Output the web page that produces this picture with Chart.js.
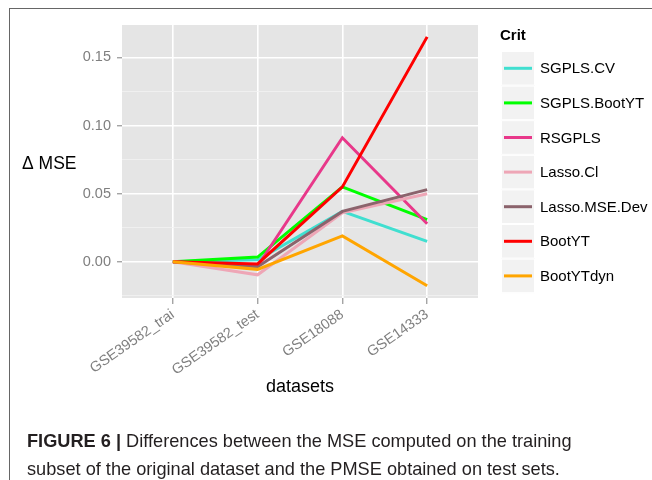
<!DOCTYPE html>
<html>
<head>
<meta charset="utf-8">
<script src="https://cdn.jsdelivr.net/npm/chart.js@4/dist/chart.umd.min.js"></script>
<style>
  body { margin: 0; background: #fff; }
  #wrap { position: relative; width: 652px; height: 480px; overflow: hidden; }
  #frame { position: absolute; left: 9px; top: 8px; width: 700px; height: 600px;
           border-left: 1px solid #666; border-top: 1px solid #666; }
  canvas { position: absolute; left: 0; top: 0; }
</style>
</head>
<body>
<div id="wrap">
  <div id="frame"></div>
  <canvas id="chart" width="652" height="480"></canvas>
</div>
<script>
// categories and tick values
const categories = ['GSE39582_trai', 'GSE39582_test', 'GSE18088', 'GSE14333'];
const yMajorTicks = [0, 0.05, 0.10, 0.15];
const yMinorTicks = [-0.025, 0.025, 0.075, 0.125];

// series
const sgplsCV     = [0, 0.0015, 0.037, 0.015];
const sgplsBootYT = [0, 0.0035, 0.055, 0.031];
const rsgpls      = [0, -0.003, 0.091, 0.028];
const lassoCl     = [0, -0.0095, 0.036, 0.050];
const lassoMSEDev = [0, -0.0035, 0.037, 0.053];
const bootYT      = [0, -0.0015, 0.055, 0.165];
const bootYTdyn   = [0, -0.0055, 0.019, -0.0175];

const seriesNames = ['SGPLS.CV', 'SGPLS.BootYT', 'RSGPLS', 'Lasso.Cl', 'Lasso.MSE.Dev', 'BootYT', 'BootYTdyn'];
const seriesValues = [sgplsCV, sgplsBootYT, rsgpls, lassoCl, lassoMSEDev, bootYT, bootYTdyn];
const seriesColors = ['#40dfd0', '#00ff00', '#e8388a', '#eea6b6', '#8b636c', '#ff0000', '#ffa500'];

const FONT = '"Liberation Sans", Arial, sans-serif';

const panelBg = {
  id: 'panelBg',
  beforeDraw(chart) {
    const { ctx, chartArea: a } = chart;
    ctx.save();
    ctx.fillStyle = '#e5e5e5';
    ctx.fillRect(a.left, a.top, a.right - a.left, a.bottom - a.top);
    ctx.restore();
  }
};

// ggplot-style legend with grey keys
const critLegend = {
  id: 'critLegend',
  afterDraw(chart) {
    const ctx = chart.ctx;
    const x0 = 501, y0 = 51, kw = 34, kh = 34.6;
    ctx.save();
    ctx.fillStyle = '#000';
    ctx.font = 'bold 15px ' + FONT;
    ctx.textBaseline = 'middle';
    ctx.fillText('Crit', 500, 36);
    chart.data.datasets.forEach((ds, i) => {
      const y = y0 + i * kh;
      ctx.fillStyle = '#f2f2f2';
      ctx.fillRect(x0, y, kw, kh);
      ctx.strokeStyle = '#ffffff';
      ctx.lineWidth = 1;
      ctx.strokeRect(x0 + 0.5, y + 0.5, kw - 1, kh - 1);
      ctx.strokeStyle = ds.borderColor;
      ctx.lineWidth = 3;
      ctx.beginPath();
      ctx.moveTo(x0 + 3, y + kh / 2);
      ctx.lineTo(x0 + kw - 3, y + kh / 2);
      ctx.stroke();
      ctx.fillStyle = '#000';
      ctx.font = '15px ' + FONT;
      ctx.fillText(ds.label, 540, y + kh / 2 + 1);
    });
    ctx.restore();
  }
};

// axis titles and figure caption
const texts = {
  id: 'texts',
  afterDraw(chart) {
    const ctx = chart.ctx;
    ctx.save();
    ctx.textBaseline = 'alphabetic';
    ctx.fillStyle = '#000';
    ctx.font = '17.5px ' + FONT;
    ctx.fillText('Δ MSE', 22, 169);
    ctx.font = '18px ' + FONT;
    ctx.textAlign = 'center';
    ctx.fillText('datasets', 300, 392);
    ctx.textAlign = 'left';
    ctx.fillStyle = '#231f20';
    ctx.font = 'bold 18.2px ' + FONT;
    const head = 'FIGURE 6 |';
    ctx.fillText(head, 27, 447);
    const w = ctx.measureText(head + ' ').width;
    ctx.font = '18.2px ' + FONT;
    ctx.fillText('Differences between the MSE computed on the training', 27 + w, 447);
    ctx.fillText('subset of the original dataset and the PMSE obtained on test sets.', 27, 475);
    ctx.restore();
  }
};

const isMajor = (v) => yMajorTicks.some((t) => Math.abs(t - v) < 1e-9);

new Chart(document.getElementById('chart'), {
  type: 'line',
  data: {
    datasets: seriesNames.map((name, i) => ({
      label: name,
      data: seriesValues[i].map((v, j) => ({ x: j, y: v })),
      borderColor: seriesColors[i],
      backgroundColor: seriesColors[i],
      borderWidth: 3,
      pointRadius: 0,
      tension: 0,
      order: seriesNames.length - i
    }))
  },
  options: {
    responsive: false,
    animation: false,
    layout: { padding: { left: 0, top: 25, right: 174, bottom: 0 } },
    plugins: { legend: { display: false }, tooltip: { enabled: false } },
    scales: {
      x: {
        type: 'linear',
        min: -0.6,
        max: 3.6,
        afterBuildTicks(scale) { scale.ticks = categories.map((c, i) => ({ value: i })); },
        afterFit(scale) { scale.height = 182; },
        border: { display: false },
        grid: { color: '#ffffff', lineWidth: 1.6, tickLength: 6, tickColor: '#7f7f7f', tickWidth: 1 },
        ticks: {
          autoSkip: false,
          minRotation: 35,
          maxRotation: 35,
          padding: 2,
          color: '#7f7f7f',
          font: { family: FONT, size: 14.5 },
          callback: (v) => categories[v]
        }
      },
      y: {
        min: -0.0265,
        max: 0.1737,
        afterBuildTicks(scale) {
          scale.ticks = yMinorTicks.concat(yMajorTicks).sort((a, b) => a - b).map((v) => ({ value: v }));
        },
        afterFit(scale) { scale.width = 122; },
        border: { display: false },
        grid: {
          color: (c) => (isMajor(c.tick.value) ? '#ffffff' : '#f2f2f2'),
          lineWidth: (c) => (isMajor(c.tick.value) ? 1.6 : 0.8),
          tickLength: 5,
          tickColor: (c) => (isMajor(c.tick.value) ? '#7f7f7f' : 'rgba(0,0,0,0)'),
          tickWidth: 1
        },
        ticks: {
          padding: 6,
          color: '#7f7f7f',
          font: { family: FONT, size: 14.5 },
          callback: (v) => (isMajor(v) ? v.toFixed(2) : '')
        }
      }
    }
  },
  plugins: [panelBg, critLegend, texts]
});
</script>
</body>
</html>
